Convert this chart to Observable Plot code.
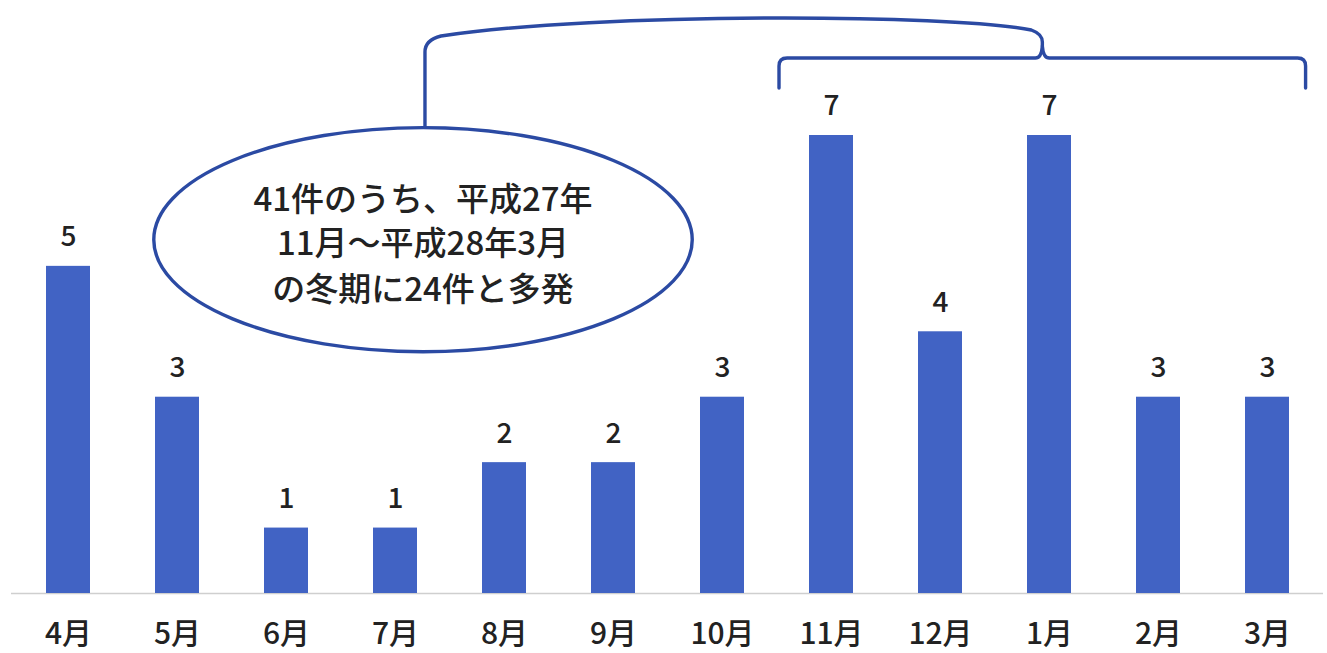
<!DOCTYPE html>
<html>
<head>
<meta charset="utf-8">
<script src="https://cdn.jsdelivr.net/npm/d3@7"></script>
<script src="https://cdn.jsdelivr.net/npm/@observablehq/plot@0.6"></script>
<style>
  html, body { margin: 0; padding: 0; background: #ffffff; }
  #chart { width: 1327px; height: 653px; }
</style>
</head>
<body>
<div id="chart"></div>
<script>
// ---- data ----
const months = ["4月", "5月", "6月", "7月", "8月", "9月", "10月", "11月", "12月", "1月", "2月", "3月"];
const counts = [5, 3, 1, 1, 2, 2, 3, 7, 4, 7, 3, 3];
const noteLines = ["41件のうち、平成27年", "11月～平成28年3月", "の冬期に24件と多発"];

const data = months.map((m, i) => ({month: m, count: counts[i]}));

const BAR = "#4163c4";
const INK = "#2b4aa3";
const FONT = "'Noto Sans CJK JP', 'Noto Sans', sans-serif";

// annotation: callout ellipse + bracket over the winter months, positioned in scale units
function annotation(index, scales, values, dimensions) {
  const x = scales.x, y = scales.y;
  const step = x(months[1]) - x(months[0]);
  const bw = typeof x.bandwidth === "function" ? x.bandwidth() : step * 0.4;
  const X = i => x(months[0]) + bw / 2 + i * step;   // fractional band index -> px
  const Y = v => y(v);
  const P = (i, v) => `${X(i)},${Y(v)}`;
  const g = d3.create("svg:g");

  // connector from ellipse up and over to the bracket
  const arc = `M${P(3.275, 7.107)} L${P(3.275, 8.268)} Q${P(3.275, 8.452)} ${P(3.422, 8.513)}`
    + ` C${P(4.886, 8.880)} ${P(8.088, 8.850)} ${P(8.838, 8.605)}`
    + ` Q${P(8.939, 8.544)} ${P(8.939, 8.421)} L${P(8.939, 8.360)}`;
  // bracket spanning 11月 to 3月
  const brace = `M${P(6.523, 7.719)} L${P(6.523, 8.054)} Q${P(6.523, 8.177)} ${P(6.597, 8.177)}`
    + ` L${P(8.875, 8.177)} Q${P(8.930, 8.177)} ${P(8.939, 8.360)}`
    + ` Q${P(8.948, 8.177)} ${P(9.003, 8.177)} L${P(11.281, 8.177)}`
    + ` Q${P(11.354, 8.177)} ${P(11.354, 8.054)} L${P(11.354, 7.719)}`;

  g.append("path").attr("d", arc).attr("fill", "none").attr("stroke", INK)
    .attr("stroke-width", 3.4).attr("stroke-linejoin", "round").attr("stroke-linecap", "round");
  g.append("path").attr("d", brace).attr("fill", "none").attr("stroke", INK)
    .attr("stroke-width", 3.4).attr("stroke-linejoin", "round").attr("stroke-linecap", "round");

  const cx = X(3.257), cy = Y(5.40);
  g.append("ellipse")
    .attr("cx", cx).attr("cy", cy)
    .attr("rx", 2.47 * step).attr("ry", Y(0) - Y(1.712))
    .attr("fill", "#ffffff").attr("stroke", INK).attr("stroke-width", 3.4);

  const lineV = [6.05, 5.38, 4.68];
  noteLines.forEach((t, k) => {
    g.append("text")
      .attr("x", cx).attr("y", Y(lineV[k]))
      .attr("text-anchor", "middle").attr("dominant-baseline", "central")
      .attr("font-family", FONT).attr("font-size", 33).attr("font-weight", 500)
      .attr("fill", "#222")
      .text(t);
  });
  return g.node();
}

const chart = Plot.plot({
  width: 1327,
  height: 653,
  marginLeft: 11,
  marginRight: 4,
  marginTop: 135,
  marginBottom: 60,
  style: {fontFamily: FONT, background: "#ffffff", color: "#222"},
  x: {domain: months, paddingInner: 0.6, paddingOuter: 0.3, axis: null, label: null},
  y: {domain: [0, 7], axis: null, label: null},
  marks: [
    Plot.ruleY([0], {stroke: "#cfcfcf", strokeWidth: 1.5}),
    Plot.barY(data, {x: "month", y: "count", fill: BAR}),
    Plot.text(data, {x: "month", y: "count", text: d => String(d.count), dy: -29,
      fontSize: 28, fontWeight: 500, fill: "#222"}),
    Plot.text(data, {x: "month", y: 0, text: "month", dy: 41,
      fontSize: 30, fontWeight: 500, fill: "#222"})
  ].concat([annotation])
});

document.getElementById("chart").appendChild(chart);
</script>
</body>
</html>
